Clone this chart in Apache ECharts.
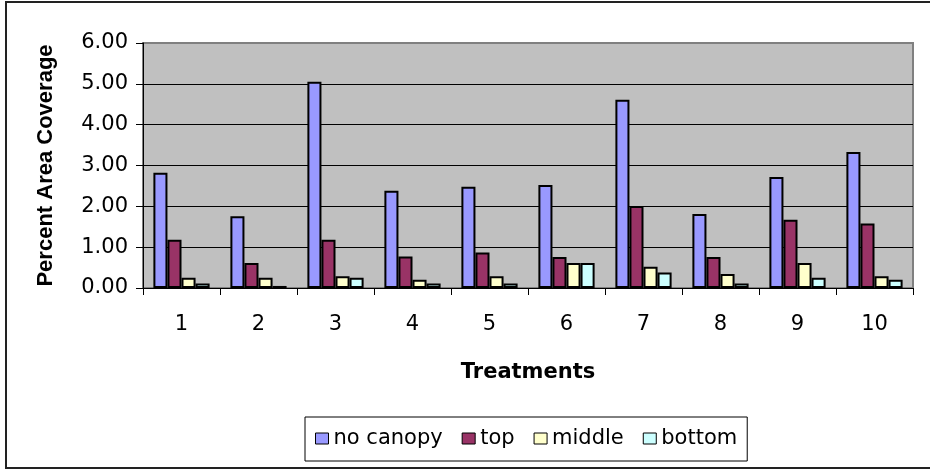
<!DOCTYPE html>
<html>
<head>
<meta charset="utf-8">
<script src="https://cdn.jsdelivr.net/npm/echarts@6/dist/echarts.min.js"></script>
<style>
html,body{margin:0;padding:0;background:#fff;}
#chart{width:930px;height:470px;}
</style>
</head>
<body>
<div id="chart"></div>
<script>
const categories = ['1','2','3','4','5','6','7','8','9','10'];
const seriesNames = ['no canopy','top','middle','bottom'];
const noCanopy = [2.82, 1.76, 5.05, 2.38, 2.48, 2.52, 4.61, 1.81, 2.72, 3.33];
const topLayer = [1.18, 0.61, 1.18, 0.77, 0.87, 0.76, 2.01, 0.76, 1.67, 1.58];
const middle = [0.25, 0.25, 0.29, 0.20, 0.29, 0.61, 0.52, 0.34, 0.61, 0.29];
const bottom = [0.11, 0.05, 0.25, 0.11, 0.11, 0.61, 0.38, 0.11, 0.25, 0.20];
const yTicks = [0, 1, 2, 3, 4, 5, 6];

const colors = ['#9999FF', '#993366', '#FFFFCC', '#CCFFFF'];
const values = [noCanopy, topLayer, middle, bottom];
const FONT = 'DejaVu Sans';

const chart = echarts.init(document.getElementById('chart'), null, {renderer: 'canvas'});
chart.setOption({
  animation: false,
  color: colors,
  graphic: [{
    type: 'rect', z: -10,
    shape: {x: 6, y: 2, width: 930, height: 466},
    style: {fill: '#fff', stroke: '#222', lineWidth: 2}
  }],
  grid: {
    left: 143, right: 17, top: 43, bottom: 182,
    show: true, backgroundColor: '#C0C0C0', borderColor: '#808080', borderWidth: 2
  },
  legend: {
    data: seriesNames,
    left: 305, top: 417,
    orient: 'horizontal',
    icon: 'rect',
    itemWidth: 13, itemHeight: 11,
    itemGap: 19,
    padding: [11, 10, 12, 10],
    borderColor: '#000', borderWidth: 1,
    itemStyle: {borderColor: '#000', borderWidth: 1},
    textStyle: {fontFamily: FONT, fontSize: 21, color: '#000'}
  },
  xAxis: {
    type: 'category',
    data: categories,
    boundaryGap: true,
    name: 'Treatments',
    nameLocation: 'middle',
    nameGap: 74,
    nameTextStyle: {fontFamily: FONT, fontSize: 21, fontWeight: 'bold', color: '#000'},
    axisLine: {lineStyle: {color: '#000', width: 1}},
    axisTick: {show: true, length: 7, lineStyle: {color: '#000'}},
    axisLabel: {fontFamily: FONT, fontSize: 21, color: '#000', margin: 26}
  },
  yAxis: {
    type: 'value',
    min: yTicks[0], max: yTicks[yTicks.length - 1], interval: 1,
    name: 'Percent Area Coverage',
    nameLocation: 'middle',
    nameGap: 86,
    nameTextStyle: {fontFamily: 'Liberation Sans', fontSize: 22, fontWeight: 'bold', color: '#000'},
    axisLine: {show: true, lineStyle: {color: '#000', width: 1}},
    axisTick: {show: true, length: 7, lineStyle: {color: '#000'}},
    axisLabel: {fontFamily: FONT, fontSize: 21, color: '#000', margin: 15,
      formatter: v => v.toFixed(2)},
    splitLine: {show: true, showMinLine: false, showMaxLine: false, lineStyle: {color: '#000', width: 1}}
  },
  series: seriesNames.map((name, i) => ({
    name: name,
    type: 'bar',
    data: values[i],
    barGap: '0%',
    barCategoryGap: '27%',
    itemStyle: {color: colors[i], borderColor: '#000', borderWidth: 2}
  }))
});
</script>
</body>
</html>
